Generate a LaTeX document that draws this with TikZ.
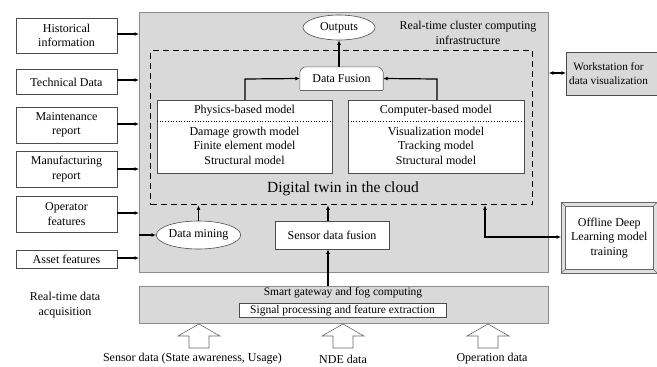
\documentclass[tikz,border=0pt]{standalone}
\usepackage{fontspec}
\setmainfont{Liberation Serif}
\usetikzlibrary{arrows.meta,shapes.geometric,shapes.misc}
\definecolor{bgray}{RGB}{217,217,217}
\definecolor{edgegray}{RGB}{140,140,140}
\begin{document}
\begin{tikzpicture}[x=1pt,y=-1pt,
  txt/.style={font=\fontsize{12}{14.5}\selectfont, align=center, inner sep=0pt},
  inbox/.style={draw=black!70, fill=white, line width=0.6pt, txt, minimum width=101pt},
  arr/.style={-{Latex[length=4.5pt,width=4pt]}, line width=1.2pt},
  darr/.style={{Latex[length=4.5pt,width=4pt]}-{Latex[length=4.5pt,width=4pt]}, line width=1.2pt},
  hollow/.style={draw=black!60, fill=white, line width=0.6pt}
]
\useasboundingbox (0,0) rectangle (657,367);

% main gray box
\node[draw=edgegray, fill=bgray, line width=0.8pt, minimum width=409pt, minimum height=260pt, anchor=north west, inner sep=0pt] (main) at (139,12) {};
% gateway box
\node[draw=edgegray, fill=bgray, line width=0.8pt, minimum width=409pt, minimum height=37pt, anchor=north west, inner sep=0pt] (gate) at (139,286) {};
% dashed box
\node[draw=black, dash pattern=on 6pt off 4pt, line width=1.3pt, minimum width=382pt, minimum height=154pt, anchor=north west, inner sep=0pt] (dt) at (150,50) {};

% left input boxes
\node[inbox, minimum height=35pt] (hist) at (66.5,35.5) {Historical\\information};
\node[inbox, minimum height=25pt] (tech) at (66.5,82) {Technical Data};
\node[inbox, minimum height=36pt] (maint) at (66.5,125) {Maintenance\\report};
\node[inbox, minimum height=36pt] (manu) at (66.5,169) {Manufacturing\\report};
\node[inbox, minimum height=36pt] (oper) at (66.5,214) {Operator\\features};
\node[inbox, minimum height=18pt] (asset) at (66.5,259) {Asset features};

\foreach \n/\y in {hist/34, tech/80, maint/124, manu/169, oper/213, asset/258}{
  \draw[arr] (\n.east |- 0,\y) -- (main.west |- 0,\y);
}

% outputs
\node[draw=black!70, fill=white, ellipse, line width=0.6pt, txt, minimum width=72pt, minimum height=25pt] (out) at (339,27.5) {Outputs};
\node[txt] (rtc) at (468,33) {Real-time cluster computing\\infrastructure};

% data fusion (top corners snipped)
\node[txt, minimum width=83pt, minimum height=23pt] (df) at (341.5,78.5) {};
\fill[white] (df.south west) -- ([yshift=-4pt]df.north west) [rounded corners=1.5pt] -- ([xshift=4pt]df.north west) -- ([xshift=-4pt]df.north east) [sharp corners] -- ([yshift=-4pt]df.north east) -- (df.south east) -- cycle;
\draw[black!60, line width=0.6pt, rounded corners=1.5pt] (df.south west) -- ([yshift=-4pt]df.north west) -- ([xshift=4pt]df.north west) -- ([xshift=-4pt]df.north east) -- ([yshift=-4pt]df.north east) -- (df.south east);
\draw[black!60, line width=0.6pt] (df.south west) -- (df.south east);
\node[txt] (dft) at (df.center) {Data Fusion};
\draw[arr] (df.north -| out.south) -- (out.south);

% model boxes
\node[draw=black!70, fill=white, line width=0.6pt, minimum width=175pt, minimum height=73pt, anchor=north west, inner sep=0pt] (phys) at (157,100) {};
\node[draw=black!70, fill=white, line width=0.6pt, minimum width=176pt, minimum height=73pt, anchor=north west, inner sep=0pt] (comp) at (348,100) {};
\coordinate (physdl) at (157,121);
\coordinate (physdr) at (332,121);
\coordinate (compdl) at (348,121);
\coordinate (compdr) at (524,121);
\draw[dotted, line width=0.7pt] (physdl) -- (physdr);
\draw[dotted, line width=0.7pt] (compdl) -- (compdr);
\node[txt] (physt) at (244.5,111) {Physics-based model};
\node[txt, align=center] (physl) at (244.5,145.5) {Damage growth model\\Finite element model\\Structural model};
\node[txt] (compt) at (436,111) {Computer-based model};
\node[txt, align=center] (compl) at (436,145.5) {Visualization model\\Tracking model\\Structural model};

\coordinate (pj) at (245,79);
\coordinate (cj) at (437,79);
\draw[arr] (phys.north -| pj) -- (pj) -- (df.west);
\draw[arr] (comp.north -| cj) -- (cj) -- (df.east);

\node[font=\fontsize{15.5}{18}\selectfont, inner sep=0pt] (dtl) at (343,189) {Digital twin in the cloud};

% data mining and sensor data fusion
\node[draw=black!70, fill=white, ellipse, line width=0.6pt, txt, minimum width=83pt, minimum height=28pt] (dm) at (198.5,235) {Data mining};
\draw[arr] (main.west |- dm) -- (dm.west);
\draw[arr] (dm.north) -- (dm.north |- dt.south);

\node[draw=black!70, fill=white, line width=0.6pt, txt, minimum width=114pt, minimum height=28pt] (sdf) at (332,235) {Sensor data fusion};
\coordinate (sx) at (328,0);
\draw[arr] (sdf.north -| sx) -- (dt.south -| sx);
\draw[arr] (gate.north -| sx) -- (sdf.south -| sx);

% workstation
\node[draw=black!70, fill=bgray, line width=0.6pt, txt, minimum width=110pt, minimum height=43pt, anchor=north west] (ws) at (566,52) {};
\node[txt, font=\fontsize{11.2}{14}\selectfont, anchor=west] (wst) at (569,73.5) {Workstation for\\data visualization};
\coordinate (wsy) at (0,73);
\draw[darr] (main.east |- wsy) -- (ws.west |- wsy);

% offline box
\node[draw=black!60, fill=black!12, line width=0.5pt, minimum width=96pt, minimum height=71pt, anchor=north west, inner sep=0pt] (off) at (561,202) {};
\node[draw=black!60, fill=white, line width=0.5pt, minimum width=88pt, minimum height=63pt, inner sep=0pt] (offin) at (off.center) {};
\draw[black!60, line width=0.4pt] (off.north west) -- (offin.north west) (off.north east) -- (offin.north east) (off.south west) -- (offin.south west) (off.south east) -- (offin.south east);
\node[txt] (offt) at (off.center) {Offline Deep\\Learning model\\training};
\coordinate (oj) at (485,237);
\draw[darr] (dt.south -| oj) -- (oj) -- (off.west |- oj);

% gateway texts
\node[txt, font=\fontsize{11.5}{14}\selectfont] (sgt) at (343,293) {Smart gateway and fog computing};
\node[draw=black!70, fill=white, line width=0.6pt, inner sep=0pt, font=\fontsize{11.5}{14}\selectfont, minimum width=207pt, minimum height=14pt] (spf) at (342.5,310.5) {Signal processing and feature extraction};

\node[txt] (rtda) at (65,305) {Real-time data\\acquisition};

% hollow arrows
\foreach \n/\cx in {ha1/199, ha2/343, ha3/488}{
  \coordinate (\n) at (\cx,324);
  \draw[hollow] (\n) -- ++(21,12) -- ++(-11,0) -- ++(0,12) -- ++(-20,0) -- ++(0,-12) -- ++(-11,0) -- cycle;
}

\node[txt] (l1) at (192.5,359) {Sensor data (State awareness, Usage)};
\node[txt] (l2) at (343,359) {NDE data};
\node[txt] (l3) at (492,359) {Operation data};
\end{tikzpicture}
\end{document}
